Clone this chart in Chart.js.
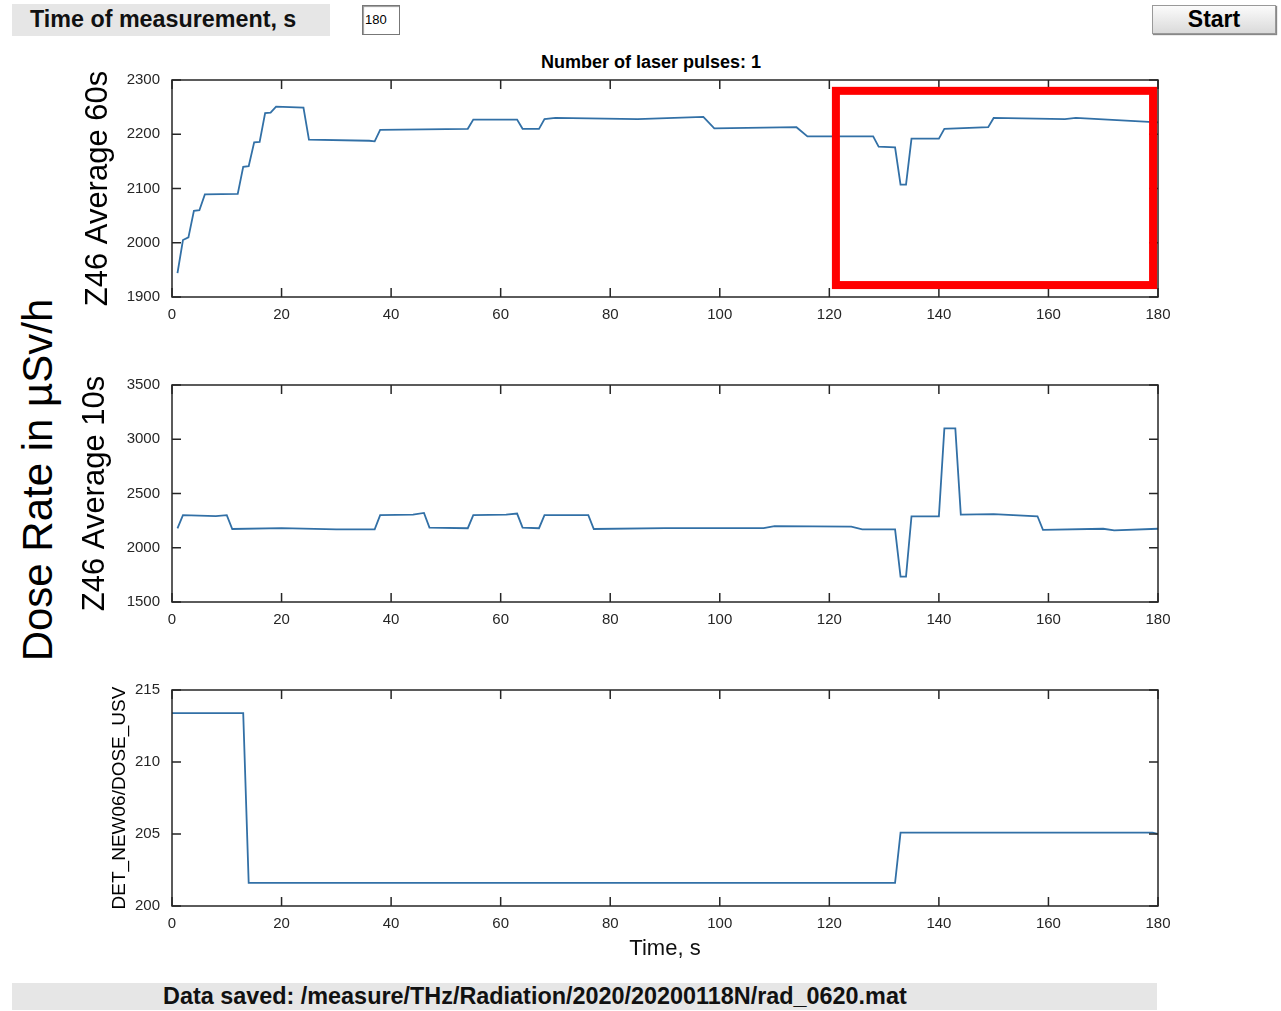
<!DOCTYPE html>
<html>
<head>
<meta charset="utf-8">
<title>Dose rate</title>
<script src="https://cdn.jsdelivr.net/npm/chart.js@4.4.1/dist/chart.umd.min.js"></script>
<style>
  body { margin: 0; background: #fff; font-family: "Liberation Sans", Arial, sans-serif; }
  #page { position: relative; width: 1281px; height: 1011px; overflow: hidden; }
  canvas { position: absolute; left: 0; }
  .panel { position: absolute; background: #e6e6e6; font-weight: bold; color: #111; white-space: nowrap; }
  #timeBox { left: 12px; top: 4px; width: 300px; height: 32px; line-height: 30px; padding-left: 18px; font-size: 23.3px; }
  #timeInput { position: absolute; left: 362px; top: 5px; width: 34px; height: 28px; border: 1px solid #777;
               box-shadow: inset 1px 1px 1px #999; background: #fff; font-size: 13px; line-height: 28px; padding-left: 2px; }
  #startBtn { position: absolute; left: 1152px; top: 5px; width: 122px; height: 27px; border: 1px solid #999;
              background: linear-gradient(#fbfbfb, #dadada); box-shadow: 1px 1px 1px #888;
              font-weight: bold; font-size: 23px; line-height: 27px; text-align: center; }
  #plotTitle { position: absolute; left: 451px; width: 400px; top: 52px; text-align: center; font-weight: bold; font-size: 18px; }
  #doseLabel { position: absolute; left: 37.5px; top: 480px; transform: translate(-50%, -50%) rotate(-90deg);
               font-size: 42px; line-height: 1; white-space: nowrap; color: #000; }
  #saved { left: 12px; top: 983px; width: 994px; height: 27px; line-height: 27px; padding-left: 151px; font-size: 23.4px; }
</style>
</head>
<body>
<div id="page">
  <div id="timeBox" class="panel">Time of measurement, s</div>
  <div id="timeInput">180</div>
  <div id="startBtn">Start</div>
  <div id="plotTitle">Number of laser pulses: 1</div>
  <div id="doseLabel">Dose Rate in µSv/h</div>
  <canvas id="chart60" width="1281" height="268" style="top:59px"></canvas>
  <canvas id="chart10" width="1281" height="268" style="top:364px"></canvas>
  <canvas id="chartDose" width="1281" height="300" style="top:669px"></canvas>
  <div id="saved" class="panel">Data saved: /measure/THz/Radiation/2020/20200118N/rad_0620.mat</div>
</div>
<script>
// Z46 Average 60s
const time60 = [1, 2, 3, 4, 5, 6, 12, 13, 14, 15, 16, 17, 18, 19, 24, 25, 36, 37, 38, 54, 55, 63, 64, 67, 68, 70, 85, 97, 99,
  114, 116, 128, 129, 132, 133, 134, 135, 140, 141, 149, 150, 163, 165, 180];
const avg60 = [1944, 2005, 2010, 2059, 2060, 2089, 2090, 2140, 2141, 2185, 2186, 2239, 2240, 2251, 2249, 2190, 2188, 2187, 2208,
  2210, 2227, 2227, 2210, 2210, 2228, 2230, 2228, 2232, 2211, 2213, 2196, 2196, 2177, 2176, 2107, 2107, 2192, 2192, 2210, 2213,
  2230, 2228, 2230, 2222];

// Z46 Average 10s
const time10 = [1, 2, 8, 10, 11, 20, 30, 37, 38, 44, 46, 47, 54, 55, 61, 63, 64, 67, 68, 76, 77, 90, 108, 110, 124, 126, 132,
  133, 134, 135, 140, 141, 143, 144, 150, 158, 159, 170, 172, 180];
const avg10 = [2179, 2300, 2292, 2300, 2173, 2180, 2170, 2170, 2300, 2305, 2321, 2185, 2180, 2300, 2305, 2315, 2185, 2180, 2300,
  2300, 2173, 2180, 2180, 2200, 2195, 2170, 2170, 1734, 1734, 2290, 2290, 3100, 3100, 2305, 2310, 2290, 2165, 2175, 2160, 2175];

// DET_NEW06/DOSE_USV
const timeDose = [0, 13, 14, 132, 133, 179, 180];
const doseUsv = [213.4, 213.4, 201.6, 201.6, 205.1, 205.1, 205.0];

const xTicks = { min: 0, max: 180, step: 20 };
const yRange60 = { min: 1900, max: 2300, step: 100 };
const yRange10 = { min: 1500, max: 3500, step: 500 };
const yRangeDose = { min: 200, max: 215, step: 5 };

// highlighted region (data units of the top plot)
const markBox = { x0: 121.2, x1: 179.1, y0: 1922, y1: 2280 };

const lineColor = '#3270a6';
const axisColor = '#262626';
const tickFont = { family: '"Liberation Sans", Arial, sans-serif', size: 15 };

const toPoints = (xs, ys) => xs.map((x, i) => ({ x: x, y: ys[i] }));
const plainNumber = v => String(v);

// MATLAB-style box with inward ticks on all sides
const boxAxes = {
  id: 'boxAxes',
  afterDatasetsDraw(chart) {
    const { ctx, chartArea: a, scales: { x, y } } = chart;
    const len = 9;
    ctx.save();
    ctx.strokeStyle = axisColor;
    ctx.lineWidth = 1.5;
    ctx.beginPath();
    x.ticks.forEach(t => {
      const px = x.getPixelForValue(t.value);
      ctx.moveTo(px, a.bottom); ctx.lineTo(px, a.bottom - len);
      ctx.moveTo(px, a.top); ctx.lineTo(px, a.top + len);
    });
    y.ticks.forEach(t => {
      const py = y.getPixelForValue(t.value);
      ctx.moveTo(a.left, py); ctx.lineTo(a.left + len, py);
      ctx.moveTo(a.right, py); ctx.lineTo(a.right - len, py);
    });
    ctx.stroke();
    ctx.strokeRect(a.left, a.top, a.right - a.left, a.bottom - a.top);
    ctx.restore();
  }
};

const redBox = {
  id: 'redBox',
  afterDraw(chart, args, opts) {
    if (!opts.box) return;
    const { ctx, scales: { x, y } } = chart;
    const b = opts.box;
    const l = x.getPixelForValue(b.x0), r = x.getPixelForValue(b.x1);
    const t = y.getPixelForValue(b.y1), btm = y.getPixelForValue(b.y0);
    ctx.save();
    ctx.strokeStyle = '#ff0000';
    ctx.lineWidth = 8;
    ctx.strokeRect(l, t, r - l, btm - t);
    ctx.restore();
  }
};

function makeChart(id, points, yr, cfg) {
  return new Chart(document.getElementById(id), {
    type: 'line',
    data: { datasets: [{ data: points, borderColor: lineColor, borderWidth: 1.8, pointRadius: 0, tension: 0, fill: false }] },
    options: {
      responsive: false,
      animation: false,
      events: [],
      layout: { padding: { left: cfg.left, right: 123, top: 18, bottom: 0 } },
      plugins: { legend: { display: false }, tooltip: { enabled: false }, redBox: { box: cfg.box || null } },
      scales: {
        x: {
          type: 'linear', min: xTicks.min, max: xTicks.max,
          grid: { display: false, drawTicks: false }, border: { display: false },
          ticks: { stepSize: xTicks.step, font: tickFont, color: axisColor, padding: 9, maxRotation: 0, callback: plainNumber },
          title: cfg.xTitle ? { display: true, text: cfg.xTitle, color: '#111',
            font: { family: '"Liberation Sans", Arial, sans-serif', size: 22 }, padding: { top: 0, bottom: 7 } } : { display: false },
          afterFit: s => { s.height = cfg.xHeight; }
        },
        y: {
          min: yr.min, max: yr.max,
          grid: { display: false, drawTicks: false }, border: { display: false },
          ticks: { stepSize: yr.step, font: tickFont, color: axisColor, padding: 12, callback: plainNumber },
          title: { display: true, text: cfg.yTitle, color: '#000', padding: 0,
            font: { family: '"Liberation Sans", Arial, sans-serif', size: cfg.yTitleSize } },
          afterFit: s => { s.width = cfg.yWidth; }
        }
      }
    },
    plugins: [boxAxes, redBox]
  });
}

makeChart('chart60', toPoints(time60, avg60), yRange60,
  { left: 80, yWidth: 92, xHeight: 30, yTitle: 'Z46 Average 60s', yTitleSize: 31, box: markBox });
makeChart('chart10', toPoints(time10, avg10), yRange10,
  { left: 77, yWidth: 95, xHeight: 30, yTitle: 'Z46 Average 10s', yTitleSize: 31 });
makeChart('chartDose', toPoints(timeDose, doseUsv), yRangeDose,
  { left: 108, yWidth: 64, xHeight: 63, yTitle: 'DET_NEW06/DOSE_USV', yTitleSize: 19, xTitle: 'Time, s' });
</script>
</body>
</html>
